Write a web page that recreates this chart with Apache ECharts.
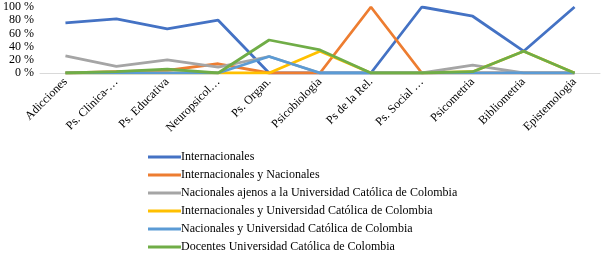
<!DOCTYPE html>
<html>
<head>
<meta charset="utf-8">
<script src="https://cdn.jsdelivr.net/npm/echarts@6/dist/echarts.min.js"></script>
<style>
html,body{margin:0;padding:0;background:#fff;}
#chart{width:601px;height:254px;}
</style>
</head>
<body>
<div id="chart"></div>
<script>
var categories = ['Adicciones', 'Ps. Clinica-…', 'Ps. Educativa', 'Neuropsicol…', 'Ps. Organ.', 'Psicobiologia', 'Ps de la Rel.', 'Ps. Social …', 'Psicometria', 'Bibliometria', 'Epistemologia'];
var yTicks = [0, 20, 40, 60, 80, 100];
var seriesNames = ['Internacionales', 'Internacionales y Nacionales', 'Nacionales ajenos a la Universidad Católica de Colombia', 'Internacionales y Universidad Católica de Colombia', 'Nacionales y Universidad Católica de Colombia', 'Docentes Universidad Católica de Colombia'];
var internacionales = [76, 82, 67, 80, 0, 0, 0, 100, 86, 33, 100];
var internacionalesNacionales = [0, 2, 4, 14, 0, 0, 100, 0, 0, 0, 0];
var nacionalesAjenos = [26, 10, 20, 9, 25, 0, 0, 0, 12, 0, 0];
var internacionalesUCC = [0, 0, 0, 0, 0, 33, 0, 0, 2, 33, 0];
var nacionalesUCC = [0, 0, 0, 0, 25, 0, 0, 0, 0, 0, 0];
var docentesUCC = [0, 2, 6, 0, 50, 35, 0, 0, 2, 33, 0];

var colors = ['#4472C4', '#ED7D31', '#A5A5A5', '#FFC000', '#5B9BD5', '#70AD47'];
var allData = [internacionales, internacionalesNacionales, nacionalesAjenos, internacionalesUCC, nacionalesUCC, docentesUCC];

var font = 'Liberation Serif, Times New Roman, serif';
var chart = echarts.init(document.getElementById('chart'), null, {renderer: 'canvas'});
chart.setOption({
  animation: false,
  color: colors,
  grid: {left: 40, right: 1, top: 7, bottom: 181, containLabel: false},
  xAxis: {
    type: 'category',
    data: categories,
    boundaryGap: true,
    axisLine: {show: true, lineStyle: {color: '#D9D9D9', width: 1}},
    axisTick: {show: false},
    axisLabel: {rotate: 45, fontFamily: font, fontSize: 12, color: '#000', margin: 7, interval: 0}
  },
  yAxis: {
    type: 'value',
    min: yTicks[0],
    max: yTicks[yTicks.length - 1],
    interval: 20,
    axisLine: {show: false},
    axisTick: {show: false},
    splitLine: {show: false},
    axisLabel: {formatter: '{value} %', fontFamily: font, fontSize: 12, color: '#000', margin: 6}
  },
  legend: {
    orient: 'vertical',
    left: 148,
    top: 150,
    padding: 0,
    icon: 'rect',
    itemWidth: 33,
    itemHeight: 3,
    itemGap: 4,
    textStyle: {fontFamily: font, fontSize: 12, color: '#000', lineHeight: 14, padding: [0, 0, 0, -5]},
    data: seriesNames
  },
  series: allData.map(function (d, i) {
    return {
      name: seriesNames[i],
      type: 'line',
      data: d,
      symbol: 'none',
      lineStyle: {width: 2.8, color: colors[i]},
      itemStyle: {color: colors[i]}
    };
  })
});
</script>
</body>
</html>
